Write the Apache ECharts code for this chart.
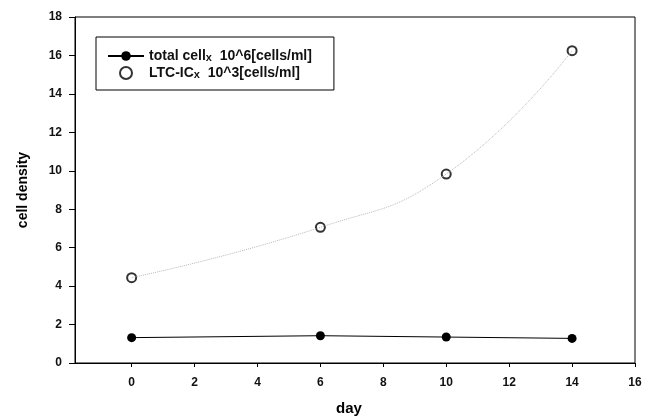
<!DOCTYPE html>
<html lang="en">
<head>
    <meta charset="UTF-8">
    <title>cell density</title>
    <script type="text/javascript" src="https://cdn.jsdelivr.net/npm/echarts@6/dist/echarts.min.js"></script>
    <style type="text/css">
        html, body { margin: 0; padding: 0; background: #ffffff; }
        #main { width: 645px; height: 418px; }
    </style>
</head>
<body>
<div id="main"></div>
<script type="text/javascript">
    // 数据
    var days = [0, 6, 10, 14];
    var totalCells = [1.32, 1.42, 1.35, 1.28];
    var ltcIc = [4.44, 7.06, 9.83, 16.25];
    var xTicks = [0, 2, 4, 6, 8, 10, 12, 14, 16];

    function pairs(xs, ys) {
        var out = [];
        for (var i = 0; i < xs.length; i++) out.push([xs[i], ys[i]]);
        return out;
    }

    var chart = echarts.init(document.getElementById('main'));
    var font = 'Liberation Sans, Arial, sans-serif';

    chart.setOption({
        animation: false,
        grid: {
            left: 75, right: 10, top: 17, bottom: 55,
            outerBoundsMode: 'none',
            containLabel: false,
            show: true, borderColor: '#000', borderWidth: 1
        },
        legend: {
            left: 96, top: 37,
            orient: 'vertical',
            data: ['total', 'ltc'],
            itemWidth: 36, itemHeight: 12, itemGap: 3,
            padding: [12, 22, 10, 11],
            borderColor: '#000', borderWidth: 1,
            formatter: function (name) {
                return name === 'total'
                    ? '{a|total cell}{s|x}{a|  10^6[cells/ml]}'
                    : '{a|LTC-IC}{s|x}{a|  10^3[cells/ml]}';
            },
            textStyle: {
                rich: {
                    a: { fontFamily: font, fontSize: 14, fontWeight: 'bold', color: '#111' },
                    s: { fontFamily: font, fontSize: 11, fontWeight: 'bold', color: '#111', padding: [3, 0, 0, 0] }
                }
            }
        },
        xAxis: {
            type: 'value',
            min: -1.8, max: 16,
            name: 'day',
            nameLocation: 'middle',
            nameGap: 38,
            nameTextStyle: { fontFamily: font, fontSize: 15, fontWeight: 'bold', color: '#000', padding: [0, 12, 0, 0] },
            splitLine: { show: false },
            axisLine: { onZero: false, lineStyle: { color: '#000', width: 1 } },
            axisTick: { customValues: xTicks, length: 4, lineStyle: { color: '#000' } },
            axisLabel: { customValues: xTicks, fontFamily: font, fontSize: 12, fontWeight: 'bold', color: '#111', margin: 14 }
        },
        yAxis: {
            type: 'value',
            min: 0, max: 18, interval: 2,
            name: 'cell density',
            nameLocation: 'middle',
            nameGap: 45,
            nameTextStyle: { fontFamily: font, fontSize: 14, fontWeight: 'bold', color: '#000' },
            splitLine: { show: false },
            axisLine: { show: true, onZero: false, lineStyle: { color: '#000', width: 1 } },
            axisTick: { show: true, length: 6, lineStyle: { color: '#000' } },
            axisLabel: { fontFamily: font, fontSize: 12, fontWeight: 'bold', color: '#111', margin: 13 }
        },
        series: [
            {
                name: 'ltc-fit',
                type: 'line',
                smooth: 0.5,
                symbol: 'none',
                silent: true,
                lineStyle: { color: '#b8b8b8', width: 1, type: 'dotted' },
                data: pairs(days, ltcIc)
            },
            {
                name: 'total',
                type: 'line',
                symbol: 'circle',
                symbolSize: 9,
                itemStyle: { color: '#000' },
                lineStyle: { color: '#000', width: 1 },
                data: pairs(days, totalCells)
            },
            {
                name: 'ltc',
                type: 'scatter',
                symbol: 'circle',
                symbolSize: 9,
                itemStyle: { color: '#fff', borderColor: '#000', borderWidth: 2 },
                data: pairs(days, ltcIc)
            }
        ]
    });
</script>
</body>
</html>
